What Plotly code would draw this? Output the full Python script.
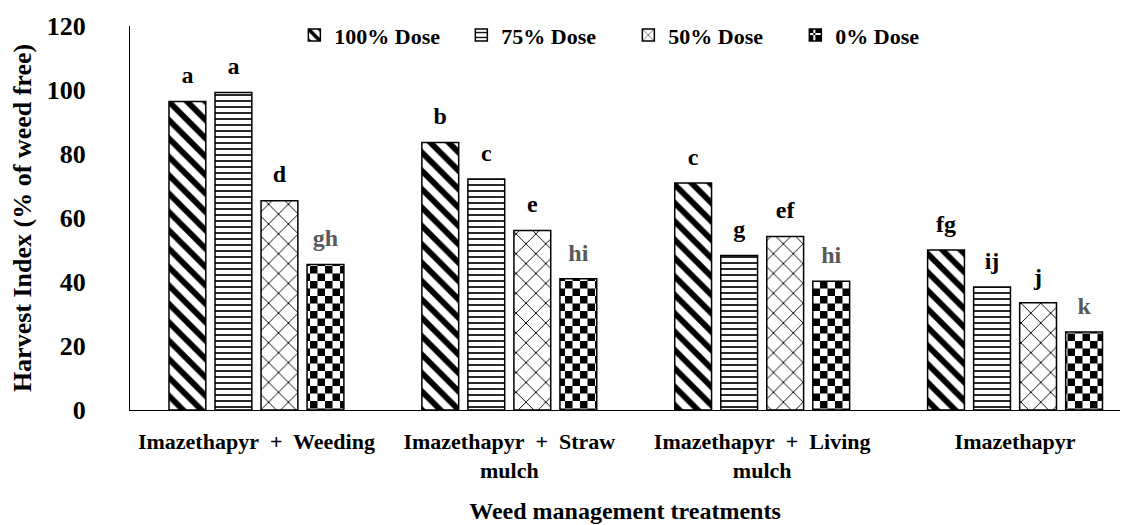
import plotly.graph_objects as go

# ---------------- data ----------------
categories = [
    "Imazethapyr\u00a0 +\u00a0 Weeding",
    "Imazethapyr\u00a0 +\u00a0 Straw<br>mulch",
    "Imazethapyr\u00a0 +\u00a0 Living<br>mulch",
    "Imazethapyr",
]
series_names = ["100% Dose", "75% Dose", "50% Dose", "0% Dose"]
dose_100 = [96.4, 83.6, 70.9, 50.0]
dose_75 = [99.2, 72.2, 48.3, 38.4]
dose_50 = [65.4, 56.1, 54.2, 33.5]
dose_0 = [45.5, 41.0, 40.2, 24.4]
letters_100 = ["a", "b", "c", "fg"]
letters_75 = ["a", "c", "g", "ij"]
letters_50 = ["d", "e", "ef", "j"]
letters_0 = ["gh", "hi", "hi", "k"]
y_ticks = [0, 20, 40, 60, 80, 100, 120]

FONT = "Liberation Serif"


def checker_pattern():
    try:
        return go.bar.marker.Pattern(
            path="M0,0H7.5V7.5H0ZM7.5,7.5H15V15H7.5Z",
            size=15, fgcolor="black", bgcolor="white", fgopacity=1,
        )
    except Exception:
        return go.bar.marker.Pattern(
            shape=".", size=9, solidity=0.6, fgcolor="black",
            bgcolor="white", fgopacity=1,
        )


patterns = [
    dict(shape="\\", size=13, solidity=0.45, fgcolor="black", bgcolor="white", fgopacity=1),
    dict(shape="-", size=6, solidity=0.28, fgcolor="black", bgcolor="white", fgopacity=1),
    dict(shape="x", size=14, solidity=0.13, fgcolor="black", bgcolor="white", fgopacity=1),
    checker_pattern(),
]
values = [dose_100, dose_75, dose_50, dose_0]
letters = [letters_100, letters_75, letters_50, letters_0]
letter_colors = ["black", "black", "black", "#595959"]

fig = go.Figure()
for name, vals, pat in zip(series_names, values, patterns):
    fig.add_trace(go.Bar(
        x=categories, y=vals, name=name,
        marker=dict(color="white", pattern=pat,
                    line=dict(color="black", width=1.5)),
        hoverinfo="skip",
    ))

for vals, labs, col in zip(values, letters, letter_colors):
    fig.add_trace(go.Scatter(
        x=categories, y=vals, text=labs, mode="markers+text",
        textposition="top center",
        marker=dict(size=18, color="rgba(0,0,0,0)"),
        textfont=dict(family=FONT, size=24, color=col, weight="bold"),
        showlegend=False, hoverinfo="skip", cliponaxis=False,
    ))

# the page body has an 8px default margin, so the figure is sized to fit
fig.update_layout(
    width=1122, height=517,
    margin=dict(l=122, r=10, t=18, b=115, autoexpand=False),
    barmode="group", bargap=0.272, bargroupgap=0.2,
    scattermode="group", scattergap=0.272,
    plot_bgcolor="white", paper_bgcolor="white",
    font=dict(family=FONT, color="black", weight="bold"),
    legend=dict(
        orientation="h", x=0.166, y=0.976, xanchor="left", yanchor="middle",
        font=dict(family=FONT, size=22, color="black", weight="bold"),
        entrywidth=122, entrywidthmode="pixels",
        bgcolor="rgba(0,0,0,0)", traceorder="normal",
    ),
)
fig.update_xaxes(
    type="category", range=[-0.5, 3.415], showline=True, linecolor="black",
    linewidth=1, ticks="", showgrid=False, automargin=False,
    tickfont=dict(family=FONT, size=22, color="black", weight="bold"),
    ticklabelstandoff=12,
    title=dict(text="Weed management treatments", standoff=20,
               font=dict(family=FONT, size=24, color="black", weight="bold")),
)
fig.update_yaxes(
    range=[0, 120], tickvals=y_ticks, showline=True, linecolor="black",
    linewidth=1, ticks="", showgrid=False, zeroline=False, automargin=False,
    tickfont=dict(family=FONT, size=26, color="black", weight="bold"),
    ticklabelstandoff=38,
    title=dict(text="Harvest Index (% of weed free)", standoff=12,
               font=dict(family=FONT, size=26, color="black", weight="bold")),
)

fig.write_html("out.html")
